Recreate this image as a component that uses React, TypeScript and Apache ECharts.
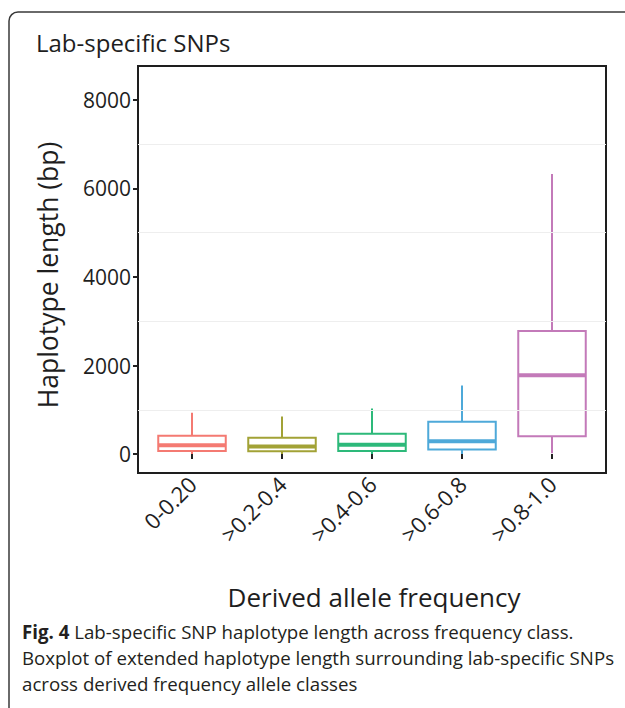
import React, { useEffect, useRef } from "react";
import * as echarts from "echarts";

const categories = ["0-0.20", ">0.2-0.4", ">0.4-0.6", ">0.6-0.8", ">0.8-1.0"];
const lowerWhisker = [0, 0, 0, 0, 20];
const q1Values = [70, 60, 70, 100, 400];
const medianValues = [200, 170, 210, 290, 1780];
const q3Values = [410, 370, 460, 730, 2780];
const upperWhisker = [930, 850, 1030, 1550, 6330];
const boxColors = ["#f47a72", "#a2a236", "#2db97a", "#4ea9d9", "#c37ab9"];
const yTicks = [0, 2000, 4000, 6000, 8000];
const yMinorGrid = [1000, 3000, 5000, 7000];

const FONT = "Open Sans";

export default function App() {
  const ref = useRef<HTMLDivElement>(null);
  useEffect(() => {
    if (!ref.current) return;
    const chart = echarts.init(ref.current, null, { renderer: "svg" });
    const data = categories.map((_, i) => [
      i + 1,
      lowerWhisker[i],
      q1Values[i],
      medianValues[i],
      q3Values[i],
      upperWhisker[i],
    ]);
    const option: any = {
      animation: false,
      backgroundColor: "#ffffff",
      grid: {
        left: 138,
        top: 66,
        width: 468,
        height: 407,
        show: true,
        borderColor: "#1e1e1e",
        borderWidth: 2,
        backgroundColor: "transparent",
      },
      xAxis: {
        type: "value",
        min: 0.4,
        max: 5.6,
        axisLine: { show: false },
        splitLine: { show: false },
        axisTick: {
          show: true,
          length: 5,
          customValues: [1, 2, 3, 4, 5],
          lineStyle: { color: "#222", width: 2 },
        },
        axisLabel: {
          customValues: [1, 2, 3, 4, 5],
          formatter: (v: number) => categories[Math.round(v) - 1] ?? "",
          rotate: 45,
          fontFamily: FONT,
          fontSize: 22,
          color: "#1e1e1e",
          margin: 7,
        },
      },
      yAxis: {
        type: "value",
        min: -429,
        max: 8768,
        axisLine: { show: false },
        splitLine: { show: false },
        axisTick: {
          show: true,
          length: 5,
          customValues: yTicks,
          lineStyle: { color: "#222", width: 2 },
        },
        axisLabel: {
          customValues: yTicks,
          formatter: (v: number) => String(Math.round(v)),
          fontFamily: FONT,
          fontSize: 21,
          color: "#1e1e1e",
          margin: 7,
        },
      },
      graphic: [
        {
          type: "rect",
          z: -10,
          shape: { x: 9, y: 12, width: 720, height: 800, r: [9, 0, 0, 0] },
          style: { fill: "none", stroke: "#3a3a3a", lineWidth: 1.5 },
        },
        {
          type: "text",
          x: 36,
          y: 42,
          style: {
            text: "Lab-specific SNPs",
            fontFamily: FONT,
            fontSize: 24,
            fill: "#1e1e1e",
            textVerticalAlign: "middle",
          },
        },
        {
          type: "text",
          x: 48,
          y: 275,
          rotation: Math.PI / 2,
          style: {
            text: "Haplotype length (bp)",
            fontFamily: FONT,
            fontSize: 26.5,
            fill: "#1e1e1e",
            textAlign: "center",
            textVerticalAlign: "middle",
          },
        },
        {
          type: "text",
          x: 374,
          y: 597,
          style: {
            text: "Derived allele frequency",
            fontFamily: FONT,
            fontSize: 26,
            fill: "#1e1e1e",
            textAlign: "center",
            textVerticalAlign: "middle",
          },
        },
        {
          type: "text",
          x: 22,
          y: 631,
          style: {
            text: "{b|Fig. 4} Lab-specific SNP haplotype length across frequency class.",
            fontFamily: FONT,
            fontSize: 18.7,
            fill: "#231f20",
            textVerticalAlign: "middle",
            rich: { b: { fontFamily: FONT, fontSize: 18.7, fontWeight: "bold", fill: "#231f20" } },
          },
        },
        {
          type: "text",
          x: 22,
          y: 657,
          style: {
            text: "Boxplot of extended haplotype length surrounding lab-specific SNPs",
            fontFamily: FONT,
            fontSize: 18.7,
            fill: "#231f20",
            textVerticalAlign: "middle",
          },
        },
        {
          type: "text",
          x: 22,
          y: 683,
          style: {
            text: "across derived frequency allele classes",
            fontFamily: FONT,
            fontSize: 18.7,
            fill: "#231f20",
            textVerticalAlign: "middle",
          },
        },
      ],
      series: [
        {
          type: "custom",
          data,
          encode: { x: 0, y: [1, 2, 3, 4, 5] },
          markLine: {
            silent: true,
            symbol: "none",
            label: { show: false },
            lineStyle: { color: "#eeeeee", width: 1, type: "solid" },
            data: yMinorGrid.map((v) => ({ yAxis: v })),
          },
          renderItem: (params: any, api: any) => {
            const i = params.dataIndex;
            const color = boxColors[i];
            const x = api.value(0);
            const pLow = api.coord([x, api.value(1)]);
            const pQ1 = api.coord([x, api.value(2)]);
            const pMed = api.coord([x, api.value(3)]);
            const pQ3 = api.coord([x, api.value(4)]);
            const pHigh = api.coord([x, api.value(5)]);
            const half = api.size([0.75, 0])[0] / 2;
            const cx = pMed[0];
            return {
              type: "group",
              children: [
                {
                  type: "line",
                  shape: { x1: cx, y1: pHigh[1], x2: cx, y2: pQ3[1] },
                  style: { stroke: color, lineWidth: 2 },
                },
                {
                  type: "line",
                  shape: { x1: cx, y1: pQ1[1], x2: cx, y2: pLow[1] },
                  style: { stroke: color, lineWidth: 2 },
                },
                {
                  type: "rect",
                  shape: { x: cx - half, y: pQ3[1], width: half * 2, height: pQ1[1] - pQ3[1] },
                  style: { fill: "#ffffff", stroke: color, lineWidth: 2 },
                },
                {
                  type: "line",
                  shape: { x1: cx - half, y1: pMed[1], x2: cx + half, y2: pMed[1] },
                  style: { stroke: color, lineWidth: 4 },
                },
              ],
            };
          },
        },
      ],
    };
    chart.setOption(option);
    return () => chart.dispose();
  }, []);
  return (
    <div
      ref={ref}
      style={{ position: "fixed", left: 0, top: 0, width: 625, height: 708 }}
    />
  );
}
